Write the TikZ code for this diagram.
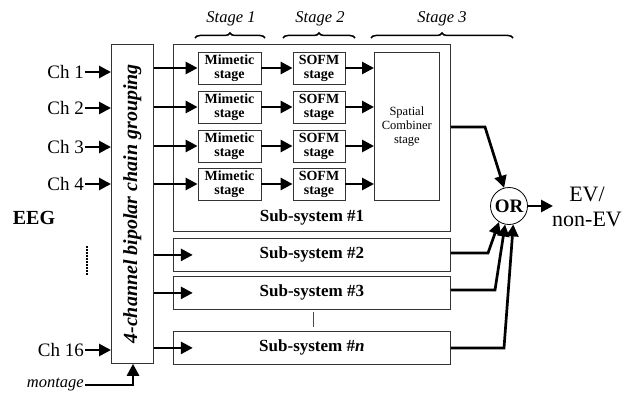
\documentclass[tikz,border=0pt]{standalone}
\usepackage{fontspec}
\setmainfont{Liberation Serif}
\usetikzlibrary{arrows.meta,decorations.pathreplacing,calc}
\begin{document}
\begin{tikzpicture}[x=1pt,y=-1pt,
  box/.style={draw=black!80,line width=0.8pt,inner sep=0pt},
  flow/.style={line width=2.7pt,-{Triangle[length=12pt,width=12pt]}},
  stagelbl/.style={font=\itshape\fontsize{16.5}{16.5}\selectfont},
  chlbl/.style={font=\fontsize{19}{19}\selectfont,anchor=east,inner sep=1pt},
  cellbox/.style={box,minimum width=63pt,minimum height=32pt,align=center,font=\bfseries\fontsize{14}{14}\selectfont},
  subbox/.style={box,minimum width=277pt,minimum height=33pt,anchor=north west,font=\bfseries\fontsize{17}{17}\selectfont},
  bracestyle/.style={decorate,decoration={brace,amplitude=5pt},line width=1.5pt}
]
\useasboundingbox (0,0) rectangle (628,393);

% channel grouping block
\node[box,anchor=north west,minimum width=42pt,minimum height=319pt] (grp) at (111,44) {};
\node[rotate=90,font=\bfseries\itshape\fontsize{20}{20}\selectfont] at (grp.center) {4-channel bipolar chain grouping};

% sub-system #1 frame
\node[box,anchor=north west,minimum width=277pt,minimum height=187pt] (s1) at (173,44) {};
\node[font=\bfseries\fontsize{17}{17}\selectfont] (s1l) at (312,217) {Sub-system \#1};

% stage cells
\foreach \i/\y in {1/68,2/107,3/146,4/184}{
  \node[cellbox] (m\i) at (229.5,\y) {Mimetic\\stage};
  \node[cellbox,minimum width=52pt] (f\i) at (319,\y) {SOFM\\stage};
}
\node[box,anchor=north west,minimum width=65pt,minimum height=148pt] (sc) at (374,52) {};
\node[align=center,font=\fontsize{12.5}{14}\selectfont] at (sc.center) {Spatial\\Combiner\\stage};

% other sub-systems
\node[subbox] (s2) at (173,238) {Sub-system \#2};
\node[subbox] (s3) at (173,276) {Sub-system \#3};
\node[subbox] (sn) at (173,331) {Sub-system \#\textit{n}};
\draw[black!70,line width=0.8pt] (313,312) -- (313,327);

% stage labels and braces
\node[stagelbl] at (231,19) {Stage 1};
\node[stagelbl] at (320,19) {Stage 2};
\node[stagelbl] at (442,19) {Stage 3};
\draw[bracestyle] (195,38) -- (265,38);
\draw[bracestyle] (283,38) -- (355,38);
\draw[bracestyle] (371,38) -- (513,38);

% input channels
\foreach \i/\y in {1/72,2/108,3/147,4/184}{
  \node[chlbl] (c\i) at (85,\y) {Ch \i};
  \draw[flow] (c\i.east) -- (grp.west |- c\i.east);
}
\node[chlbl] (c16) at (85,350) {Ch 16};
\draw[flow] (c16.east) -- (grp.west |- c16.east);
\node[font=\bfseries\fontsize{20}{20}\selectfont] (eeg) at (34,218) {EEG};
\draw[line width=2.2pt,dash pattern=on 1.5pt off 1.5pt] (87,246) -- (87,276);

% montage input
\node[font=\itshape\fontsize{16.5}{16.5}\selectfont,anchor=east,inner sep=1pt] (mont) at (85,385) {montage};
\coordinate (mbend) at (133,385);
\draw[flow] (mont.east) -- (mbend) -- (grp.south -| mbend);

% internal flows
\foreach \i in {1,2,3,4}{
  \draw[flow] (grp.east |- m\i) -- (m\i.west);
  \draw[flow] (m\i.east) -- (f\i.west);
  \draw[flow] (f\i.east) -- (sc.west |- f\i);
}
\foreach \n in {s2,s3,sn}{
  \draw[flow] (grp.east |- \n) -- ++(39,0);
}

% OR gate and output
\node[draw,circle,line width=0.8pt,minimum size=37pt,inner sep=0pt,font=\bfseries\fontsize{19}{19}\selectfont] (or) at (509,206) {OR};
\node[align=center,font=\fontsize{22}{25}\selectfont] (out) at (587,207) {EV/\\non-EV};
\draw[flow] (or.east) -- (553,206);

\coordinate (a1) at (485,127);
\draw[flow] (s1.east |- a1) -- (a1) -- (or.105);
\coordinate (a2) at (488,253);
\draw[flow] (s2.east |- a2) -- (a2) -- (or.238);
\coordinate (a3) at (495,290);
\draw[flow] (s3.east |- a3) -- (a3) -- (or.258);
\coordinate (a4) at (504,348);
\draw[flow] (sn.east |- a4) -- (a4) -- (or.283);
\end{tikzpicture}
\end{document}
